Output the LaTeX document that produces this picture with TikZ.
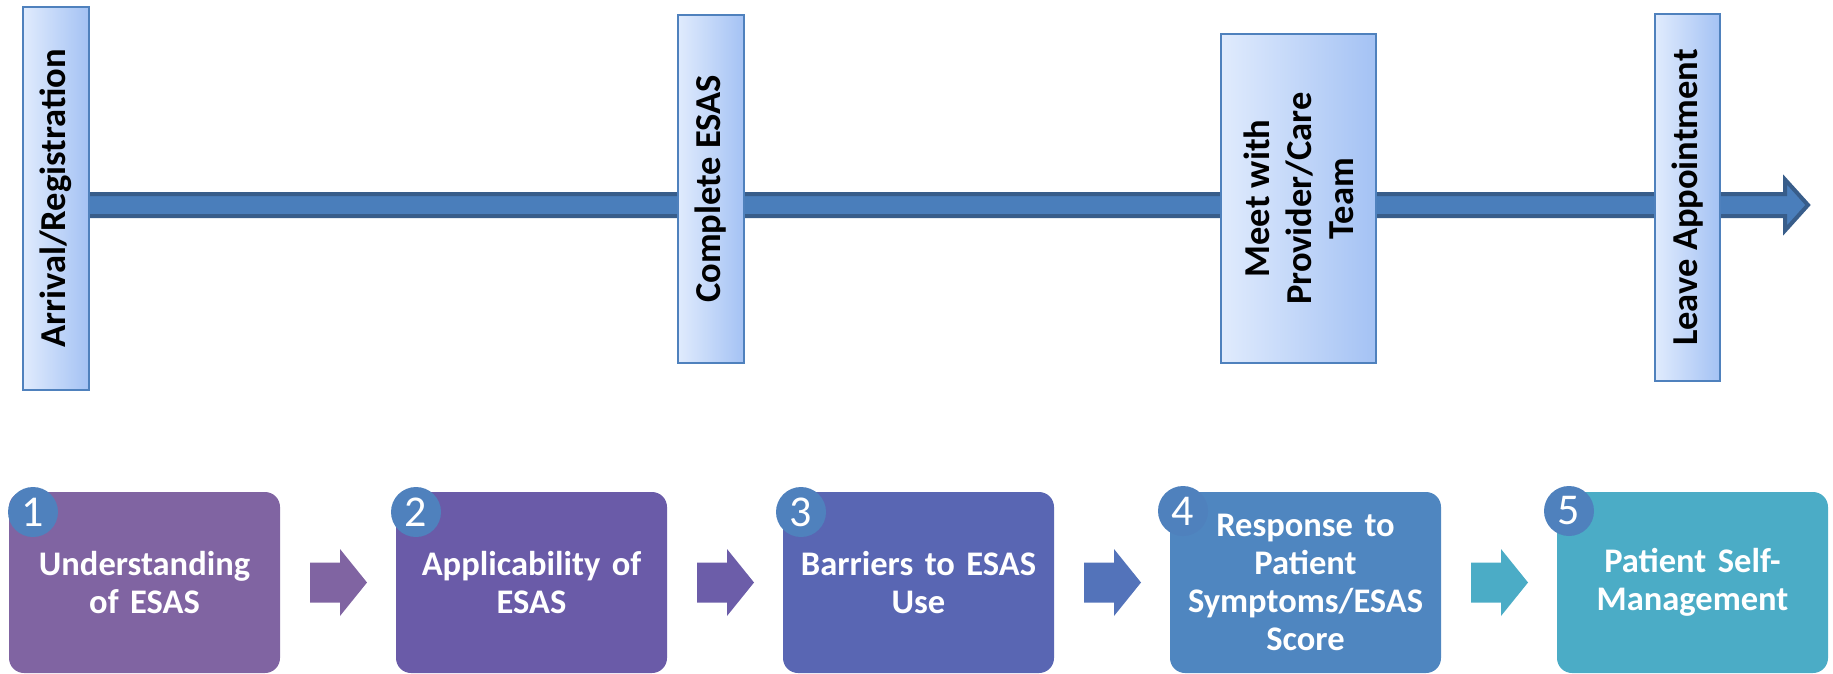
\documentclass[tikz,border=0pt]{standalone}
\usepackage{fontspec}
\setmainfont{Carlito}
\usetikzlibrary{calc}
\definecolor{boxedge}{HTML}{4F81BD}
\definecolor{boxlight}{HTML}{E0EBFD}
\definecolor{boxdark}{HTML}{A4C2F4}
\definecolor{arrfill}{HTML}{4A7EBB}
\definecolor{arredge}{HTML}{385D8A}
\definecolor{cA}{HTML}{8064A2}
\definecolor{cB}{HTML}{6A5BA8}
\definecolor{cC}{HTML}{5966B3}
\definecolor{cD}{HTML}{4F86C0}
\definecolor{cE}{HTML}{4BACC6}
\definecolor{aB}{HTML}{6C5DA9}
\definecolor{aC}{HTML}{5373BA}
\definecolor{numc}{HTML}{4F81BD}
\newcommand\blockarr[3]{%
  \fill[#3] ($(#1.east)!0.5!(#2.west)$) ++(-28,-20) -- ++(30,0) -- ++(0,-13.5)
    -- ++(27,33.5) -- ++(-27,33.5) -- ++(0,-13.5) -- ++(-30,0) -- cycle;}
\begin{document}
\begin{tikzpicture}[x=1pt,y=-1pt,
  vbox/.style={draw=boxedge, line width=2pt, left color=boxlight, right color=boxdark, inner sep=0pt},
  vtext/.style={rotate=90, align=center, text=black, font=\fontsize{36.5}{42}\selectfont\bfseries, inner sep=0pt},
  mainarrow/.style={draw=arredge, fill=arrfill, line width=4pt, line join=miter},
  stepbox/.style={rounded corners=15pt, minimum width=271pt, minimum height=181pt, inner sep=0pt,
     text width=262pt, align=center, text=white, font=\fontsize{34.5}{38}\selectfont\bfseries},
  numc/.style={circle, fill=numc, minimum size=50pt, inner sep=0pt, text=white,
     font=\fontsize{44}{44}\selectfont}
]
\useasboundingbox (0,0) rectangle (1833,673);

\path (56,198.5) coordinate (pa1);
\coordinate (tip) at (1808,205);
\draw[mainarrow] ($(pa1|-tip)+(0,-11)$) -- ($(tip)+(-23,-11)$) -- ($(tip)+(-23,-25.5)$)
  -- (tip) -- ($(tip)+(-23,25.5)$) -- ($(tip)+(-23,11)$) -- ($(pa1|-tip)+(0,11)$) -- cycle;

\node[vbox, minimum width=66pt, minimum height=383pt] (a1) at (pa1) {};
\node[vtext] (a1t) at (a1) {Arrival/Registration};
\node[vbox, minimum width=66pt, minimum height=348pt] (a2) at (711,189) {};
\node[vtext] (a2t) at (a2) {Complete ESAS};
\node[vbox, minimum width=155pt, minimum height=329pt] (a3) at (1298.5,198.5) {};
\node[vtext] (a3t) at (a3) {Meet with\\Provider/Care\\Team};
\node[vbox, minimum width=65pt, minimum height=367pt] (a4) at (1687.5,197.5) {};
\node[vtext] (a4t) at (a4) {Leave Appointment};

\node[stepbox, fill=cA] (b1) at (144.5,582.5) {Understanding\\of ESAS};
\node[stepbox, fill=cB] (b2) at (531.5,582.5) {Applicability of\\ESAS};
\node[stepbox, fill=cC] (b3) at (918.5,582.5) {Barriers to ESAS\\Use};
\node[stepbox, fill=cD] (b4) at (1305.5,582.5) {Response to\\Patient\\Symptoms/ESAS\\Score};
\node[stepbox, fill=cE] (b5) at (1692.5,582.5) {Patient Self-\\Management};

\node[numc] (n1) at (33,512) {1};
\node[numc] (n2) at (416,512) {2};
\node[numc] (n3) at (801,512) {3};
\node[numc] (n4) at (1183,511) {4};
\node[numc] (n5) at (1569,511) {5};

\blockarr{b1}{b2}{cA}
\blockarr{b2}{b3}{aB}
\blockarr{b3}{b4}{aC}
\blockarr{b4}{b5}{cE}
\end{tikzpicture}
\end{document}
